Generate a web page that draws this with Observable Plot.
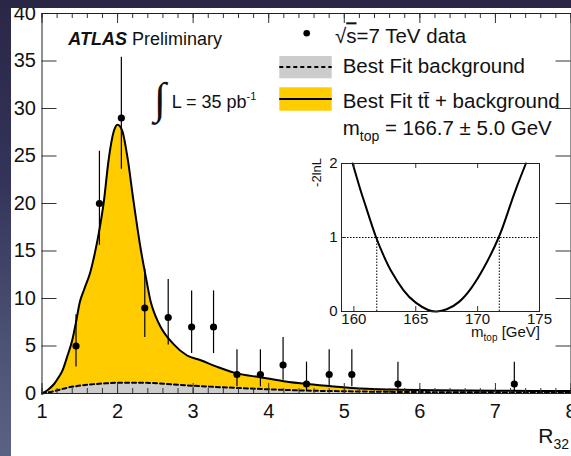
<!DOCTYPE html>
<html><head><meta charset="utf-8">
<script src="https://cdn.jsdelivr.net/npm/d3@7"></script>
<script src="https://cdn.jsdelivr.net/npm/@observablehq/plot@0.6"></script>
<style>
html,body{margin:0;padding:0;}
body{width:571px;height:456px;overflow:hidden;position:relative;
  background:linear-gradient(180deg,#2a2746 0%,#34345a 40%,#4c5274 75%,#5b6384 100%);
  font-family:"Liberation Sans",Arial,sans-serif;}
#panel{position:absolute;left:11px;top:8px;width:560px;height:448px;background:#fff;overflow:hidden;}
#main{position:absolute;left:0;top:0;}
#inset{position:absolute;left:290px;top:145.3px;}
#over{position:absolute;left:0;top:0;}
</style></head><body>
<div id="panel"><div id="main"></div><div id="inset"></div>
<svg id="over" width="560" height="448" font-family="Liberation Sans, Arial, sans-serif"></svg></div>
<script>
// ---- data points (R32 bins) ----
const binX    = [1.45, 1.76, 2.05, 2.36, 2.67, 2.98, 3.27, 3.58, 3.89, 4.19, 4.50, 4.80, 5.10, 5.71, 7.25];
const counts  = [5, 20, 29, 9, 8, 7, 7, 2, 2, 3, 1, 2, 2, 1, 1];
const errLow  = [2.8, 15.6, 23.6, 5.9, 5.1, 4.2, 4.2, 0.7, 0.7, 1.4, 0.2, 0.7, 0.7, 0.2, 0.2];
const errHigh = [8.3, 25.5, 35.4, 13.1, 12.0, 10.8, 10.8, 4.6, 4.6, 5.9, 3.3, 4.6, 4.6, 3.3, 3.3];

// ---- best fit ttbar + background curve ----
const totX = [1.0, 1.08, 1.16, 1.22, 1.27, 1.33, 1.40, 1.45, 1.50, 1.56, 1.64, 1.70, 1.75, 1.82, 1.88, 1.95, 2.00, 2.06, 2.13, 2.21, 2.30, 2.38, 2.44, 2.50, 2.57, 2.74, 2.92, 3.10, 3.32, 3.54, 3.89, 4.20, 4.51, 4.86, 5.30, 5.74, 6.2, 6.6, 7.0, 7.5, 8.0];
const totY = [0.0, 0.4, 1.0, 1.7, 2.4, 3.8, 5.6, 7.5, 9.6, 11.0, 12.8, 14.8, 16.8, 20.3, 24.5, 27.6, 28.3, 27.7, 24.9, 20.3, 15.5, 12.0, 9.6, 8.2, 7.0, 5.2, 4.0, 3.5, 2.8, 2.2, 1.7, 1.3, 1.0, 0.74, 0.5, 0.4, 0.35, 0.32, 0.3, 0.27, 0.25];

// ---- best fit background curve ----
const bgX = [1.0, 1.16, 1.33, 1.6, 1.8, 2.0, 2.35, 2.74, 3.10, 3.54, 3.98, 4.42, 4.9, 5.3, 6.0, 7.0, 8.0];
const bgY = [0.0, 0.25, 0.6, 0.92, 1.05, 1.13, 1.13, 0.95, 0.77, 0.6, 0.45, 0.32, 0.25, 0.2, 0.15, 0.12, 0.1];

// ---- inset likelihood scan ----
const scanM = [159.9, 160.5, 161.0, 161.8, 162.5, 163.0, 164.0, 165.0, 166.0, 166.7, 167.5, 168.5, 169.5, 170.5, 171.7, 172.5, 173.2, 173.9];
const scanL = [2.0, 1.66, 1.40, 1.0, 0.72, 0.55, 0.29, 0.12, 0.02, 0.0, 0.03, 0.13, 0.32, 0.59, 1.0, 1.37, 1.70, 2.0];
const crossM = [161.85, 171.75];

// ---- ticks ----
const xLabels = [1, 2, 3, 4, 5, 6, 7, 8];
const yLabels = [0, 5, 10, 15, 20, 25, 30, 35, 40];
const insetXLabels = [160, 165, 170, 175];
const insetYLabels = [0, 1, 2];

const pts = binX.map((x, i) => ({x, n: counts[i], lo: errLow[i], hi: errHigh[i]}));
const tot = totX.map((x, i) => ({x, y: totY[i]}));
const bg = bgX.map((x, i) => ({x, y: bgY[i]}));
const scan = scanM.map((m, i) => ({m, v: scanL[i]}));
const xMinor = d3.range(1, 8.0001, 0.2).map(v => +v.toFixed(1));

const FONT = "Liberation Sans, Arial, sans-serif";
const mW = 560, mH = 448, mL = 30.5, mR = 0.5, mT = 5, mB = 63;
const fw = mW - mL - mR, fh = mH - mT - mB;

const main = Plot.plot({
  width: mW, height: mH,
  marginLeft: mL, marginRight: mR, marginTop: mT, marginBottom: mB,
  x: {domain: [1, 8]},
  y: {domain: [0, 40]},
  style: {fontFamily: FONT, fontSize: "20px", color: "#111", background: "transparent", overflow: "visible"},
  marks: [
    Plot.areaY(tot, {x: "x", y: "y", fill: "#ffcc00", curve: "monotone-x"}),
    Plot.areaY(bg, {x: "x", y: "y", fill: "#cccccc", curve: "monotone-x"}),
    Plot.lineY(tot, {x: "x", y: "y", stroke: "#000", strokeWidth: 2, curve: "monotone-x"}),
    Plot.lineY(bg, {x: "x", y: "y", stroke: "#000", strokeWidth: 2, strokeDasharray: "4,3", curve: "monotone-x"}),
    // ROOT-style inner ticks
    Plot.tickX(xMinor, {x: d => d, insetTop: fh - 5, stroke: "#333"}),
    Plot.tickX(xLabels, {x: d => d, insetTop: fh - 10, stroke: "#333"}),
    Plot.tickX(xMinor, {x: d => d, insetBottom: fh - 5, stroke: "#333"}),
    Plot.tickX(xLabels, {x: d => d, insetBottom: fh - 10, stroke: "#333"}),
    Plot.tickY(yLabels, {y: d => d, insetRight: fw - 15, stroke: "#333"}),
    Plot.tickY(yLabels, {y: d => d, insetLeft: fw - 15, stroke: "#333"}),
    Plot.ruleX(pts, {x: "x", y1: "lo", y2: "hi", stroke: "#000", strokeWidth: 1.2}),
    Plot.dot(pts, {x: "x", y: "n", r: 3.6, fill: "#000", stroke: null}),
    Plot.frame({stroke: "#222"}),
    Plot.axisX({ticks: xLabels, tickSize: 0, tickPadding: 10, label: null, tickFormat: d => String(d)}),
    Plot.axisY({ticks: yLabels, tickSize: 0, tickPadding: 6, label: null, tickFormat: d => String(d)})
  ]
});
document.getElementById("main").appendChild(main);

const iW = 250, iH = 193, iL = 40, iR = 12, iT = 10, iB = 35;
const ifw = iW - iL - iR, ifh = iH - iT - iB;
const inset = Plot.plot({
  width: iW, height: iH,
  marginLeft: iL, marginRight: iR, marginTop: iT, marginBottom: iB,
  x: {domain: [159, 175]},
  y: {domain: [0, 2]},
  style: {fontFamily: FONT, fontSize: "15px", color: "#111", background: "transparent", overflow: "visible"},
  marks: [
    Plot.ruleY([1], {stroke: "#000", strokeWidth: 1, strokeDasharray: "1.5,1.5"}),
    Plot.ruleX(crossM, {x: d => d, y1: 0, y2: 1, stroke: "#000", strokeWidth: 1, strokeDasharray: "1.5,1.5"}),
    Plot.line(scan, {x: "m", y: "v", stroke: "#000", strokeWidth: 2, curve: "natural"}),
    Plot.tickX(insetXLabels, {x: d => d, insetTop: ifh - 5, stroke: "#333"}),
    Plot.tickX(insetXLabels, {x: d => d, insetBottom: ifh - 5, stroke: "#333"}),
    Plot.tickY(insetYLabels, {y: d => d, insetRight: ifw - 5, stroke: "#333"}),
    Plot.frame({stroke: "#222"}),
    Plot.axisX({ticks: insetXLabels, tickSize: 0, tickPadding: 2, label: null, tickFormat: d => String(d)}),
    Plot.axisY({ticks: insetYLabels, tickSize: 0, tickPadding: 4, label: null, tickFormat: d => String(d)})
  ]
});
document.getElementById("inset").appendChild(inset);

// ---- overlay: legend and annotations ----
const over = d3.select("#over");
// legend
over.append("circle").attr("cx", 295.7).attr("cy", 25.3).attr("r", 3.3).attr("fill", "#000");
const t1 = over.append("text").attr("x", 324).attr("y", 35.3).attr("font-size", 20.5).attr("fill", "#111");
t1.append("tspan").text("√");
t1.append("tspan").attr("text-decoration", "overline").text("s");
t1.append("tspan").text("=7 TeV data");
over.append("rect").attr("x", 268.3).attr("y", 48).attr("width", 52.4).attr("height", 22.3).attr("fill", "#cccccc");
over.append("line").attr("x1", 268.3).attr("x2", 320.7).attr("y1", 59).attr("y2", 59)
  .attr("stroke", "#000").attr("stroke-width", 2).attr("stroke-dasharray", "4,3");
over.append("text").attr("x", 331.7).attr("y", 65.3).attr("font-size", 20.5).attr("fill", "#111").text("Best Fit background");
over.append("rect").attr("x", 268.3).attr("y", 79.3).attr("width", 52.4).attr("height", 23.4).attr("fill", "#ffcc00");
over.append("line").attr("x1", 268.3).attr("x2", 320.7).attr("y1", 91).attr("y2", 91)
  .attr("stroke", "#000").attr("stroke-width", 2);
over.append("text").attr("x", 331.7).attr("y", 100.3).attr("font-size", 20.5).attr("fill", "#111").text("Best Fit tt\u0304 + background");
const t4 = over.append("text").attr("x", 331.7).attr("y", 127).attr("font-size", 20.5).attr("fill", "#111");
t4.append("tspan").text("m");
t4.append("tspan").attr("font-size", 14).attr("dy", 6).text("top");
t4.append("tspan").attr("dy", -6).text(" = 166.7 ± 5.0 GeV");

// ATLAS label
const at = over.append("text").attr("x", 57.3).attr("y", 37).attr("font-size", 18).attr("fill", "#111");
at.append("tspan").attr("font-weight", "bold").attr("font-style", "italic").text("ATLAS");
at.append("tspan").text(" Preliminary");
// luminosity
over.append("text").attr("x", 143).attr("y", 105).attr("font-size", 44).attr("font-family", "Liberation Serif, serif")
  .attr("fill", "#111").text("∫");
const lt = over.append("text").attr("x", 160.7).attr("y", 100.3).attr("font-size", 18).attr("fill", "#111");
lt.append("tspan").text("L = 35 pb");
lt.append("tspan").attr("font-size", 11).attr("dy", -8).text("-1");

// axis titles
const rt = over.append("text").attr("x", 527.3).attr("y", 435).attr("font-size", 21).attr("fill", "#111");
rt.append("tspan").text("R");
rt.append("tspan").attr("font-size", 14).attr("dy", 6).text("32");
over.append("text").attr("transform", "translate(310.2,150) rotate(-90)").attr("text-anchor", "end")
  .attr("font-size", 13).attr("fill", "#111").text("-2lnL");
const mt = over.append("text").attr("x", 529).attr("y", 329).attr("text-anchor", "end").attr("font-size", 15).attr("fill", "#111");
mt.append("tspan").text("m");
mt.append("tspan").attr("font-size", 10).attr("dy", 4).text("top");
mt.append("tspan").attr("dy", -4).text(" [GeV]");
</script>
</body></html>
